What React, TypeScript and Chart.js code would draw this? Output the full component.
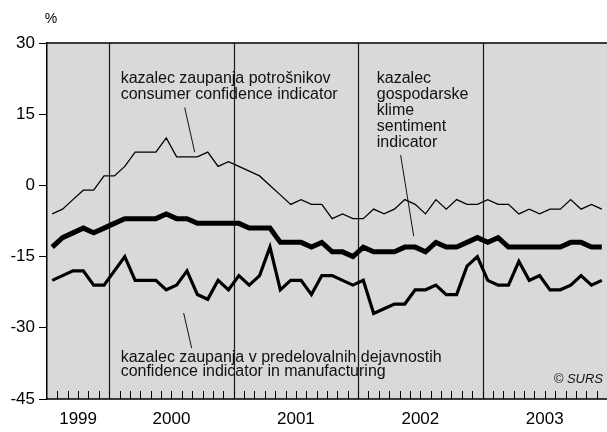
import React, { useEffect, useRef } from "react";
import { Chart, registerables } from "chart.js";

Chart.register(...registerables);

// Months: Jul 1999 .. Dec 2003 (54 months)
const years = ["1999", "2000", "2001", "2002", "2003"];
const monthsPerYear = [6, 12, 12, 12, 12];

const consumer = [
  -6, -5, -3, -1, -1, 2,
  2, 4, 7, 7, 7, 10, 6, 6, 6, 7, 4, 5,
  4, 3, 2, 0, -2, -4, -3, -4, -4, -7, -6, -7,
  -7, -5, -6, -5, -3, -4, -6, -3, -5, -3, -4, -4,
  -3, -4, -4, -6, -5, -6, -5, -5, -3, -5, -4, -5,
];

const sentiment = [
  -13, -11, -10, -9, -10, -9,
  -8, -7, -7, -7, -7, -6, -7, -7, -8, -8, -8, -8,
  -8, -9, -9, -9, -12, -12, -12, -13, -12, -14, -14, -15,
  -13, -14, -14, -14, -13, -13, -14, -12, -13, -13, -12, -11,
  -12, -11, -13, -13, -13, -13, -13, -13, -12, -12, -13, -13,
];

const manufacturing = [
  -20, -19, -18, -18, -21, -21,
  -18, -15, -20, -20, -20, -22, -21, -18, -23, -24, -20, -22,
  -19, -21, -19, -13, -22, -20, -20, -23, -19, -19, -20, -21,
  -20, -27, -26, -25, -25, -22, -22, -21, -23, -23, -17, -15,
  -20, -21, -21, -16, -20, -19, -22, -22, -21, -19, -21, -20,
];

const yTicks = [30, 15, 0, -15, -30, -45];

const consumerLabel = ["kazalec zaupanja potrošnikov", "consumer confidence indicator"];
const sentimentLabel = ["kazalec", "gospodarske", "klime", "sentiment", "indicator"];
const manufacturingLabel = [
  "kazalec zaupanja v predelovalnih dejavnostih",
  "confidence indicator in manufacturing",
];
const unitLabel = "%";
const sourceLabel = "© SURS";

const FONT = "'Liberation Sans', Arial, Helvetica, sans-serif";

export default function App() {
  const ref = useRef<HTMLCanvasElement | null>(null);

  useEffect(() => {
    const canvas = ref.current;
    if (!canvas) return;
    const total = monthsPerYear.reduce((a, b) => a + b, 0);
    const yearStarts: number[] = [];
    const yearCenters: number[] = [];
    let acc = 0;
    monthsPerYear.forEach((m) => {
      yearStarts.push(acc);
      yearCenters.push(acc + m / 2);
      acc += m;
    });
    const toPts = (arr: number[]) => arr.map((v, i) => ({ x: i + 0.5, y: v }));

    const decor = {
      id: "decor",
      beforeDraw(chart: any) {
        const { ctx, chartArea } = chart;
        ctx.save();
        ctx.fillStyle = "#d9d9d9";
        ctx.fillRect(chartArea.left, chartArea.top, chartArea.right - chartArea.left, chartArea.bottom - chartArea.top);
        ctx.restore();
      },
      beforeDatasetsDraw(chart: any) {
        const { ctx, chartArea } = chart;
        const xs = chart.scales.x;
        ctx.save();
        // year separators
        ctx.strokeStyle = "#1a1a1a";
        ctx.lineWidth = 1.2;
        yearStarts.slice(1).forEach((s) => {
          const px = Math.round(xs.getPixelForValue(s)) + 0.5;
          ctx.beginPath();
          ctx.moveTo(px, chartArea.top);
          ctx.lineTo(px, chartArea.bottom);
          ctx.stroke();
        });
        // month ticks
        ctx.lineWidth = 1;
        ctx.strokeStyle = "#000";
        for (let m = 1; m < total; m++) {
          const px = Math.round(xs.getPixelForValue(m)) + 0.5;
          ctx.beginPath();
          ctx.moveTo(px, chartArea.bottom - 8);
          ctx.lineTo(px, chartArea.bottom);
          ctx.stroke();
        }
        // top and bottom borders
        ctx.lineWidth = 1.5;
        ctx.beginPath();
        ctx.moveTo(chartArea.left, chartArea.top);
        ctx.lineTo(chartArea.right, chartArea.top);
        ctx.moveTo(chartArea.left, chartArea.bottom);
        ctx.lineTo(chartArea.right, chartArea.bottom);
        ctx.stroke();
        ctx.restore();
      },
      afterDatasetsDraw(chart: any) {
        const { ctx, chartArea } = chart;
        const xs = chart.scales.x;
        const ys = chart.scales.y;
        const X = (v: number) => xs.getPixelForValue(v);
        const Y = (v: number) => ys.getPixelForValue(v);
        ctx.save();
        ctx.fillStyle = "#111";
        ctx.textAlign = "left";
        ctx.textBaseline = "middle";
        ctx.font = `16px ${FONT}`;
        consumerLabel.forEach((t, i) => ctx.fillText(t, X(7.1), Y(22.6) + i * 16));
        sentimentLabel.forEach((t, i) => ctx.fillText(t, X(31.8), Y(22.6) + i * 16));
        manufacturingLabel.forEach((t, i) => ctx.fillText(t, X(7.1), Y(-36.2) + i * 14));
        // leader lines
        ctx.strokeStyle = "#111";
        ctx.lineWidth = 1;
        const leaders = [
          [13.28, 16.4, 14.24, 7.0],
          [34.1, 6.4, 35.36, -10.7],
          [13.18, -26.9, 13.95, -34.3],
        ];
        leaders.forEach(([x1, y1, x2, y2]) => {
          ctx.beginPath();
          ctx.moveTo(X(x1), Y(y1));
          ctx.lineTo(X(x2), Y(y2));
          ctx.stroke();
        });
        // source
        ctx.font = `italic 13px ${FONT}`;
        ctx.textAlign = "right";
        ctx.fillText(sourceLabel, chartArea.right - 4, Y(-40.8));
        // unit
        ctx.font = `14px ${FONT}`;
        ctx.textAlign = "center";
        ctx.fillStyle = "#000";
        ctx.fillText(unitLabel, chartArea.left + 4, chartArea.top - 24);
        ctx.restore();
      },
    };

    const chart = new Chart(canvas, {
      type: "line",
      data: {
        datasets: [
          { label: "consumer", data: toPts(consumer), borderColor: "#000", borderWidth: 1.3, pointRadius: 0, tension: 0 },
          { label: "manufacturing", data: toPts(manufacturing), borderColor: "#000", borderWidth: 3.2, pointRadius: 0, tension: 0 },
          { label: "sentiment", data: toPts(sentiment), borderColor: "#000", borderWidth: 5, pointRadius: 0, tension: 0 },
        ],
      },
      options: {
        animation: false,
        responsive: false,
        maintainAspectRatio: false,
        layout: { padding: { top: 43, right: 0, left: 0, bottom: 0 } },
        plugins: { legend: { display: false }, tooltip: { enabled: false }, title: { display: false } },
        scales: {
          x: {
            type: "linear",
            min: 0,
            max: total,
            afterBuildTicks: (scale: any) => {
              scale.ticks = yearCenters.map((v) => ({ value: v }));
            },
            afterFit: (scale: any) => {
              scale.height = 33;
            },
            grid: { display: false, drawTicks: false },
            border: { display: false },
            ticks: {
              autoSkip: false,
              maxRotation: 0,
              padding: 10,
              color: "#000",
              font: { family: FONT, size: 17 },
              callback: (v: any) => {
                const idx = yearCenters.indexOf(Number(v));
                return idx >= 0 ? years[idx] : "";
              },
            },
          },
          y: {
            min: -45,
            max: 30,
            afterBuildTicks: (scale: any) => {
              scale.ticks = yTicks.map((v) => ({ value: v }));
            },
            afterFit: (scale: any) => {
              scale.width = 47;
            },
            grid: { drawOnChartArea: false, tickLength: 8, color: "#000", lineWidth: 1 },
            border: { display: true, color: "#000", width: 1.5 },
            ticks: {
              padding: 4,
              color: "#000",
              font: { family: FONT, size: 17 },
            },
          },
        },
      },
      plugins: [decor],
    } as any);

    return () => chart.destroy();
  }, []);

  return (
    <div style={{ position: "absolute", left: 0, top: 0, width: 607, height: 432, background: "#fff" }}>
      <canvas ref={ref} width={607} height={432} style={{ display: "block", width: 607, height: 432 }} />
    </div>
  );
}
